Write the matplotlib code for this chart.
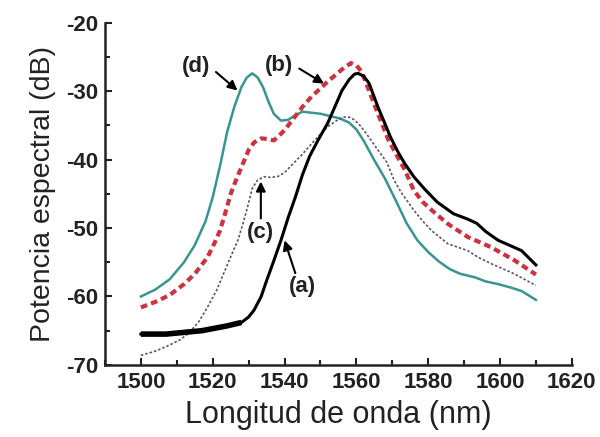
import matplotlib
matplotlib.use("Agg")
import matplotlib.pyplot as plt
from matplotlib.ticker import MultipleLocator

plt.rcParams['font.family'] = ['Liberation Sans', 'DejaVu Sans']
plt.rcParams['axes.unicode_minus'] = False

# (a) black solid
wl_a = [1500, 1507, 1517, 1524, 1528, 1530, 1531.5, 1533.5, 1535, 1537, 1539, 1541, 1543,
        1545, 1547, 1549.5, 1552, 1554, 1556, 1558, 1559.5, 1560.5, 1562, 1563.5, 1566,
        1568, 1569.5, 1571.5, 1573.5, 1576, 1579, 1582.5, 1587, 1591, 1593.5, 1596,
        1599.5, 1603, 1606, 1610]
p_a = [-65.5, -65.5, -65.0, -64.3, -63.8, -63.0, -62.0, -60.0, -57.7, -54.8, -51.8, -48.5,
       -45.5, -42.2, -39.5, -37.0, -34.7, -32.3, -29.9, -28.3, -27.5, -27.4, -27.8, -28.8,
       -32.3, -34.8, -36.7, -38.8, -40.6, -42.5, -44.3, -46.2, -47.9, -48.7, -49.3, -50.5,
       -51.8, -52.6, -53.3, -55.4]

# (b) red dashed
wl_b = [1500, 1504, 1508, 1512, 1515, 1518.5, 1520.5, 1522, 1523.5, 1525, 1526.5, 1528,
        1530, 1531.5, 1533.5, 1535.5, 1537, 1538.5, 1540, 1542.5, 1545, 1547.5, 1550, 1552,
        1554.5, 1556.5, 1558.5, 1560, 1561.5, 1563, 1566, 1569, 1571.5, 1573.5, 1576,
        1578.5, 1581, 1585.5, 1591, 1597.5, 1604, 1610]
p_b = [-61.6, -60.8, -59.8, -58.2, -56.7, -54.3, -52.2, -50.4, -47.8, -45.0, -43.0, -41.1,
       -38.6, -37.5, -36.9, -37.0, -37.2, -36.5, -35.7, -34.0, -32.3, -30.8, -29.6, -28.6,
       -27.5, -26.6, -25.9, -26.2, -27.2, -29.2, -33.3, -37.2, -39.6, -41.5, -44.5, -46.2,
       -47.4, -49.4, -51.3, -52.8, -54.7, -56.8]

# (c) dotted
wl_c = [1500, 1504, 1508, 1511, 1513, 1516, 1518.5, 1521, 1523, 1525, 1527, 1528.5, 1529.7,
        1531, 1532.5, 1534.3, 1536, 1538, 1540, 1542, 1545, 1547.5, 1550, 1552, 1554.5,
        1556.5, 1558, 1559.5, 1561, 1562.5, 1566, 1568.5, 1570.5, 1572.5, 1576, 1578.5,
        1581, 1585.5, 1591, 1594, 1597.5, 1604, 1610]
p_c = [-68.6, -68.0, -67.1, -66.3, -65.5, -63.8, -61.6, -59.2, -56.7, -54.2, -51.8, -49.2,
       -46.9, -44.2, -43.0, -42.5, -42.6, -42.5, -41.9, -40.8, -39.2, -37.7, -36.3, -35.2,
       -34.3, -33.8, -33.8, -34.2, -35.0, -36.0, -38.6, -40.4, -43.0, -44.8, -47.4, -49.0,
       -50.4, -52.3, -53.3, -54.3, -55.2, -56.7, -58.4]

# (d) teal solid
wl_d = [1500, 1504, 1508, 1512, 1515, 1518, 1520, 1522, 1524, 1526, 1528, 1529.5, 1531,
        1532.5, 1534, 1535.5, 1537, 1539, 1541, 1543, 1545, 1550, 1555.5, 1558, 1560, 1562,
        1565, 1568, 1571, 1574, 1577, 1580, 1583, 1586, 1589, 1593, 1596, 1599.5, 1603,
        1606, 1610]
p_d = [-60.0, -59.0, -57.5, -55.0, -52.5, -49.0, -45.5, -41.0, -36.0, -32.3, -29.4, -28.0,
       -27.4, -28.0, -29.4, -31.5, -33.3, -34.3, -34.2, -33.5, -33.0, -33.3, -34.0, -34.6,
       -35.6, -37.2, -40.1, -42.8, -46.0, -49.3, -51.8, -53.5, -54.9, -56.0, -56.7, -57.2,
       -57.8, -58.2, -58.7, -59.2, -60.5]

x_ticks = [1500, 1520, 1540, 1560, 1580, 1600, 1620]
y_ticks = [-70, -60, -50, -40, -30, -20]

fig = plt.figure(figsize=(6, 4.37), dpi=100)
ax = fig.add_axes([0.175, 0.165, 0.778, 0.783])

ax.plot(wl_d, p_d, color='#3a9490', lw=1.8, zorder=2)
ax.plot(wl_c, p_c, color='#555578', lw=1.2, ls=(0, (1.5, 1.2)), zorder=3)
ax.plot(wl_b, p_b, color='#cc3340', lw=3.0, ls=(0, (1.6, 1.0)), zorder=4)
ax.plot(wl_a, p_a, color='black', lw=2.2, zorder=5)
# thicker noisy-looking flat part of (a)
ax.plot(wl_a[:5], p_a[:5], color='black', lw=4.0, zorder=5, solid_capstyle='butt')

ax.set_xlim(1490, 1620)
ax.set_ylim(-70, -20)
ax.set_xticks(x_ticks)
ax.set_yticks(y_ticks)
ax.xaxis.set_minor_locator(MultipleLocator(10))
ax.yaxis.set_minor_locator(MultipleLocator(5))
ax.tick_params(which='major', direction='in', length=5, width=1.5, labelsize=16, pad=5,
               colors='#222222')
ax.tick_params(which='minor', direction='in', length=3.5, width=1.5, colors='#222222')
for lab in ax.get_xticklabels() + ax.get_yticklabels():
    lab.set_fontweight('bold')
for s in ['top', 'right']:
    ax.spines[s].set_visible(False)
for s in ['left', 'bottom']:
    ax.spines[s].set_linewidth(1.8)
    ax.spines[s].set_color('#222222')

ax.set_xlabel('Longitud de onda (nm)', fontsize=22, labelpad=5, color='#222222')
ax.set_ylabel('Potencia espectral (dB)', fontsize=20.5, labelpad=7, color='#222222')

arrow = dict(arrowstyle='-|>', color='black', lw=1.5, mutation_scale=14, shrinkA=0, shrinkB=0)
tkw = dict(fontsize=16, fontweight='bold', ha='center', va='center', color='#222222')

ax.text(1515.3, -26.4, '(d)', **tkw)
ax.annotate('', xy=(1526.9, -29.9), xytext=(1520.9, -27.2), arrowprops=arrow)
ax.text(1538.5, -26.2, '(b)', **tkw)
ax.annotate('', xy=(1551.0, -28.9), xytext=(1544.1, -26.7), arrowprops=arrow)
ax.text(1533.4, -50.6, '(c)', **tkw)
ax.annotate('', xy=(1533.4, -43.2), xytext=(1533.4, -48.6), arrowprops=arrow)
ax.text(1545.0, -58.6, '(a)', **tkw)
ax.annotate('', xy=(1540.0, -51.8), xytext=(1543.0, -56.6), arrowprops=arrow)

fig.savefig('out.png', dpi=100)
